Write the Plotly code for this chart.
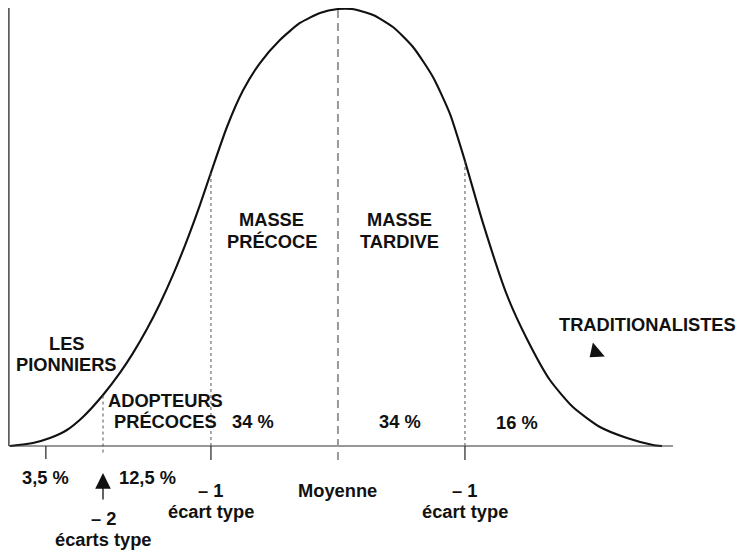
import numpy as np
import plotly.graph_objects as go

# Curve: x in standard deviations from the mean, y = height (% of peak)
curve_x = [-2.583, -2.402, -2.268, -2.134, -2.008, -1.850, -1.717, -1.614, -1.504, -1.402,
           -1.299, -1.189, -1.087, -1.008, -0.874, -0.748, -0.614, -0.457, -0.299, -0.142,
           0.0, 0.110, 0.276, 0.433, 0.591, 0.748, 0.882, 0.992, 1.142, 1.331, 1.488,
           1.669, 1.850, 2.063, 2.276, 2.480, 2.551]
curve_y = [0, 0.69, 1.83, 3.66, 6.64, 11.67, 16.72, 21.25, 26.75, 32.56,
           39.15, 47.07, 55.13, 61.9, 73.0, 81.33, 87.64, 92.91, 96.80, 99.08,
           100, 100, 98.63, 95.88, 91.30, 84.44, 76.0, 66.0, 51.0, 34.5, 24.5,
           15.10, 8.92, 4.35, 1.83, 0.23, 0]

# Segment labels inside the curve
seg_labels = ["MASSE<br>PRÉCOCE", "MASSE<br>TARDIVE", "LES<br>PIONNIERS",
              "ADOPTEURS<br>PRÉCOCES", "TRADITIONALISTES"]
seg_x = [-0.52, 0.488, -2.134, -1.354, 2.441]
seg_y = [49.3, 49.3, 21.05, 8.0, 27.7]

# Percentages
pct_labels = ["34 %", "34 %", "16 %", "3,5 %", "12,5 %"]
pct_x = [-0.669, 0.488, 1.409, -2.299, -1.496]
pct_y = [5.5, 5.5, 5.3, -7.1, -7.1]

# Axis marks under the baseline
mark_labels = ["– 1<br>écart type", "Moyenne", "– 1<br>écart type", "– 2<br>écarts type"]
mark_x = [-1.0, 0.0, 1.0, -1.85]
mark_y = [-12.6, -10.1, -12.6, -19.0]

sd_lines = [-1.0, 1.0]
minus2_x = -1.85
tick_35_x = -2.30
mean_x = 0.0

FONT = dict(family="Liberation Sans, Arial, Helvetica, sans-serif", size=18.3,
            color="#111111", weight="bold")
LINE_GAP = 21.5  # px between the two lines of a label

fig = go.Figure()
fig.add_trace(go.Scatter(x=curve_x, y=curve_y, mode="lines",
                         line=dict(color="#111111", width=2.1, shape="spline", smoothing=0.6),
                         hoverinfo="skip", showlegend=False))

# Traditionalistes arrowhead (pointing down-left)
fig.add_trace(go.Scatter(x=[2.03], y=[21.5], mode="markers",
                         marker=dict(symbol="triangle-up", size=16, angle=-130,
                                     color="#111111"),
                         hoverinfo="skip", showlegend=False))

shapes = []
# baseline and left axis
shapes.append(dict(type="line", x0=-2.591, x1=2.638, y0=0, y1=0,
                   line=dict(color="#333333", width=1.2)))
shapes.append(dict(type="line", x0=-2.591, x1=-2.591, y0=0, y1=100.7,
                   line=dict(color="#444444", width=1.5)))

# ±1 sd dotted lines up to the curve + ticks below
for sx in sd_lines:
    top = float(np.interp(sx, curve_x, curve_y))
    shapes.append(dict(type="line", x0=sx, x1=sx, y0=0, y1=top,
                       line=dict(color="#555555", width=1, dash="3px,3px")))
    shapes.append(dict(type="line", x0=sx, x1=sx, y0=0, y1=-3.2,
                       line=dict(color="#333333", width=1.3)))
# -2 sd line
top2 = float(np.interp(minus2_x, curve_x, curve_y))
shapes.append(dict(type="line", x0=minus2_x, x1=minus2_x, y0=-1.5, y1=top2,
                   line=dict(color="#555555", width=1, dash="3px,3px")))
# 3,5 % tick
shapes.append(dict(type="line", x0=tick_35_x, x1=tick_35_x, y0=0, y1=-3.0,
                   line=dict(color="#333333", width=1.3)))
# mean dashed line
topm = float(np.interp(mean_x, curve_x, curve_y))
shapes.append(dict(type="line", x0=mean_x, x1=mean_x, y0=-3.2, y1=topm,
                   line=dict(color="#999999", width=2, dash="8px,5px")))

annotations = []
for t, x, y in zip(seg_labels + pct_labels + mark_labels,
                   seg_x + pct_x + mark_x, seg_y + pct_y + mark_y):
    lines = t.split("<br>")
    n = len(lines)
    for i, ln in enumerate(lines):
        shift = ((n - 1) / 2 - i) * LINE_GAP
        annotations.append(dict(x=x, y=y, text=ln, showarrow=False, font=FONT,
                                align="center", xanchor="center", yanchor="middle",
                                yshift=shift))
# arrow at -2 sd
annotations.append(dict(x=minus2_x, y=-6.2, ax=0, ay=28, text="", showarrow=True,
                        arrowhead=2, arrowsize=2.4, arrowwidth=1.3, arrowcolor="#111111",
                        axref="pixel", ayref="pixel"))

# the page body has an 8px margin, so the figure covers window pixels 8..745 x 8..550
fig.update_layout(width=737, height=542, margin=dict(l=0, r=0, t=0, b=0),
                  paper_bgcolor="white", plot_bgcolor="white",
                  xaxis=dict(range=[-2.598, 3.205], visible=False, fixedrange=True),
                  yaxis=dict(range=[-23.80, 100.23], visible=False, fixedrange=True),
                  shapes=shapes, annotations=annotations)

fig.write_html("out.html")
